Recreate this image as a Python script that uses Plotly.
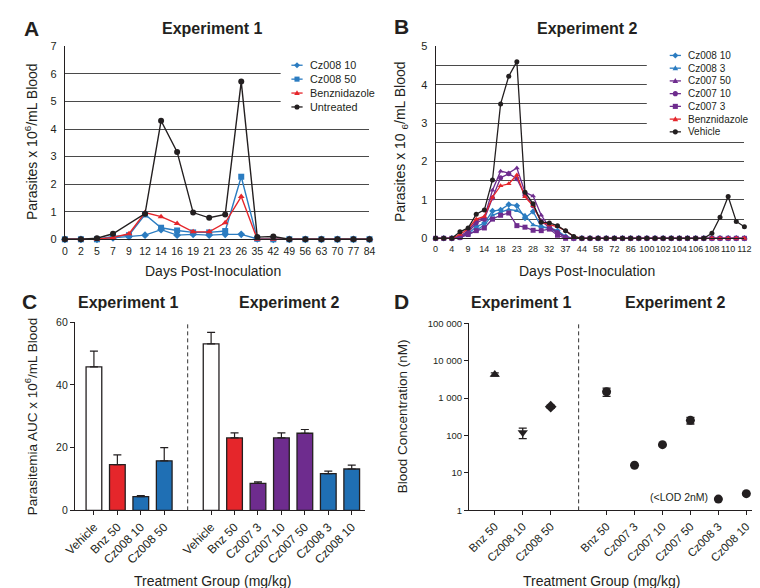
import plotly.graph_objects as go

W, H = 760, 588
FONT = "Liberation Sans, Arial, sans-serif"
INK = "#231f20"
GRID = "#4a4a4a"
BLUE = "#2b7cc1"
RED = "#e5262b"
PURPLE = "#6e2c8e"

# ---------------- Panel A data (Experiment 1) ----------------
a_days = ["0", "2", "5", "7", "9", "12", "14", "16", "19", "21", "23", "26",
          "35", "42", "49", "56", "63", "70", "77", "84"]
a_cz008_10 = [0, 0, 0, 0.05, 0.1, 0.15, 0.35, 0.15, 0.18, 0.15, 0.18, 0.18, 0.02, 0, 0, 0, 0, 0, 0, 0]
a_cz008_50 = [0, 0, 0, 0.1, 0.15, 0.9, 0.42, 0.32, 0.25, 0.25, 0.3, 2.27, 0.02, 0, 0, 0, 0, 0, 0, 0]
a_bnz = [0, 0, 0, 0.07, 0.2, 0.97, 0.82, 0.57, 0.27, 0.27, 0.6, 1.55, 0, 0, 0, 0, 0, 0, 0, 0]
a_untreated = [0, 0, 0.04, 0.2, None, 0.93, 4.3, 3.17, 0.97, 0.78, 0.9, 5.72, 0.08, 0.1, 0, 0, 0, 0, 0, 0]

# ---------------- Panel B data (Experiment 2) ----------------
b_days = ["0", "2", "4", "7", "9", "11", "14", "16", "18", "21", "23", "25", "28", "30", "32",
          "35", "37", "39", "44", "51", "58", "65", "72", "79", "86", "93", "100", "101", "102",
          "103", "104", "105", "106", "107", "108", "109", "110", "111", "112"]
b_cz008_10 = [0, 0, 0, 0.03, 0.12, 0.3, 0.4, 0.71, 0.74, 0.88, 0.85, 0.53, 0.7, 0.3, 0.28, 0.2, 0.05, 0,
              0, 0, 0, 0, 0, 0, 0, 0, 0, 0, 0, 0, 0, 0, 0, 0, 0, 0, 0, 0, 0]
b_cz008_3 = [0, 0, 0, 0.02, 0.1, 0.2, 0.35, 0.6, 0.68, 0.75, 0.72, 0.6, 0.35, 0.3, 0.25, 0.15, 0.02, 0,
             0, 0, 0, 0, 0, 0, 0, 0, 0, 0, 0, 0, 0, 0, 0, 0, 0, 0, 0, 0, 0]
b_cz007_50 = [0, 0, 0, 0.05, 0.2, 0.45, 0.55, 1.25, 1.75, 1.7, 1.83, 1.2, 1.1, 0.6, 0.3, 0.15, 0.03, 0,
              0, 0, 0, 0, 0, 0, 0, 0, 0, 0, 0, 0, 0, 0, 0, 0, 0, 0, 0, 0, 0]
b_cz007_10 = [0, 0, 0, 0.03, 0.15, 0.4, 0.5, 1.05, 1.58, 1.68, 1.55, 1.12, 0.85, 0.45, 0.28, 0.15, 0.03, 0,
              0, 0, 0, 0, 0, 0, 0, 0, 0, 0, 0, 0, 0, 0, 0, 0, 0, 0, 0, 0, 0]
b_cz007_3 = [0, 0, 0, 0.02, 0.1, 0.2, 0.27, 0.5, 0.6, 0.66, 0.33, 0.29, 0.21, 0.2, 0.24, 0.08, 0, 0,
             0, 0, 0, 0, 0, 0, 0, 0, 0, 0, 0, 0, 0, 0, 0, 0, 0, 0, 0, 0, 0]
b_bnz = [0, 0, 0, 0.1, 0.25, 0.5, 0.57, 1.07, 1.37, 1.42, 1.65, 1.08, 0.85, 0.42, 0.35, 0.3, 0.2, 0.05,
         0, 0, 0, 0, 0, 0, 0, 0, 0, 0, 0, 0, 0, 0, 0, 0, 0, 0, 0, 0, 0]
b_vehicle = [0, 0, 0, 0.17, 0.27, 0.63, 0.74, 1.52, 3.5, 4.22, 4.6, 1.2, 0.9, 0.42, 0.4, 0.33, 0.2, 0.05,
             0, 0, 0, 0, 0, 0, 0, 0, 0, 0, 0, 0, 0, 0, 0, 0, 0.13, 0.55, 1.09, 0.44, 0.3]

# ---------------- Panel C data (AUC) ----------------
c_e1_groups = ["Vehicle", "Bnz 50", "Cz008 10", "Cz008 50"]
c_e1_mean = [45.8, 14.6, 4.4, 15.8]
c_e1_err = [5.0, 3.1, 0.3, 4.2]
c_e2_groups = ["Vehicle", "Bnz 50", "Cz007 3", "Cz007 10", "Cz007 50", "Cz008 3", "Cz008 10"]
c_e2_mean = [53.1, 23.1, 8.6, 23.1, 24.6, 11.7, 13.2]
c_e2_err = [3.7, 1.6, 0.5, 1.6, 1.2, 0.8, 1.2]

# ---------------- Panel D data (blood concentration) ----------------
d_e1_groups = ["Bnz 50", "Cz008 10", "Cz008 50"]
d_e1_vals = [4300, 120, 590]
d_e1_err = [400, 37, 60]
d_e2_groups = ["Bnz 50", "Cz007 3", "Cz007 10", "Cz007 50", "Cz008 3", "Cz008 10"]
d_e2_vals = [1480, 16, 57, 255, 2.0, 2.8]
d_e2_err = [370, 0, 0, 52, 0, 0]
d_ticks = [1, 10, 100, 1000, 10000, 100000]
d_ticktext = ["1", "10", "100", "1 000", "10 000", "100 000"]


def px(x):
    return x / W


def py(y):
    return 1 - y / H


def group_color(g):
    if g.startswith("Vehicle"):
        return "white"
    if g.startswith("Bnz"):
        return RED
    if g.startswith("Cz007"):
        return PURPLE
    return "#1f6fb4"


fig = go.Figure()

# ---------- Panel A traces ----------
a_series = [
    ("Cz008 10", a_cz008_10, BLUE, "diamond"),
    ("Cz008 50", a_cz008_50, BLUE, "square"),
    ("Benznidazole", a_bnz, RED, "triangle-up"),
    ("Untreated", a_untreated, INK, "circle"),
]
for name, vals, col, sym in a_series:
    fig.add_trace(go.Scatter(x=a_days, y=vals, name=name, mode="lines+markers",
                             connectgaps=True, cliponaxis=False,
                             line=dict(color=col, width=1.4),
                             marker=dict(color=col, symbol=sym, size=6),
                             xaxis="x", yaxis="y"))

# ---------- Panel B traces ----------
b_series = [
    ("Cz008 10", b_cz008_10, BLUE, "diamond"),
    ("Cz008 3", b_cz008_3, BLUE, "triangle-up"),
    ("Cz007 50", b_cz007_50, PURPLE, "triangle-up"),
    ("Cz007 10", b_cz007_10, PURPLE, "circle"),
    ("Cz007 3", b_cz007_3, PURPLE, "square"),
    ("Benznidazole", b_bnz, RED, "triangle-up"),
    ("Vehicle", b_vehicle, INK, "circle"),
]
for name, vals, col, sym in b_series:
    fig.add_trace(go.Scatter(x=b_days, y=vals, name=name, mode="lines+markers",
                             cliponaxis=False,
                             line=dict(color=col, width=1.3),
                             marker=dict(color=col, symbol=sym, size=5),
                             xaxis="x2", yaxis="y2"))

# ---------- Panel C bars ----------
c_groups = c_e1_groups + c_e2_groups
c_pos = list(range(len(c_e1_groups))) + [len(c_e1_groups) + 1 + i for i in range(len(c_e2_groups))]
c_gap = len(c_e1_groups)
c_mean = c_e1_mean + c_e2_mean
c_err = c_e1_err + c_e2_err
fig.add_trace(go.Bar(x=c_pos, y=c_mean, width=0.67,
                     marker=dict(color=[group_color(g) for g in c_groups],
                                 line=dict(color=INK, width=1.3)),
                     error_y=dict(type="data", symmetric=False, array=c_err,
                                  arrayminus=[0] * len(c_err), color=INK,
                                  thickness=1.2, width=4),
                     xaxis="x3", yaxis="y3", showlegend=False))

# ---------- Panel D points ----------
d_groups = d_e1_groups + d_e2_groups
d_pos = list(range(len(d_e1_groups))) + [len(d_e1_groups) + 1 + i for i in range(len(d_e2_groups))]
d_gap = len(d_e1_groups)
d_vals = d_e1_vals + d_e2_vals
d_err = d_e1_err + d_e2_err
d_symbols = ["triangle-up", "triangle-down", "diamond"] + ["circle"] * len(d_e2_groups)
fig.add_trace(go.Scatter(x=d_pos, y=d_vals, mode="markers", cliponaxis=False,
                         marker=dict(color=INK, symbol=d_symbols, size=9),
                         error_y=dict(type="data", array=d_err, color=INK,
                                      thickness=1.3, width=4),
                         xaxis="x4", yaxis="y4", showlegend=False))

# ---------- Axes ----------
common_y = dict(showline=True, linecolor=INK, linewidth=1, zeroline=False,
                ticks="outside", ticklen=5, tickcolor="rgba(0,0,0,0)",
                tickfont=dict(family=FONT, size=11, color=INK))

fig.update_layout(
    xaxis=dict(domain=[px(47), px(359)], anchor="y", type="category", range=[0, 19],
               showgrid=False, showline=True, linecolor=INK, linewidth=1.2,
               ticks="outside", ticklen=2, tickcolor="rgba(0,0,0,0)",
               tickfont=dict(family=FONT, size=10.5, color=INK), tickangle=0),
    yaxis=dict(domain=[py(230), py(33)], anchor="x", range=[0, 7], dtick=1,
               showgrid=True, gridcolor=GRID, gridwidth=1, **common_y),
    xaxis2=dict(domain=[px(426.7), px(743)], anchor="y2", type="category", range=[0, 38],
                showgrid=False, showline=True, linecolor=INK, linewidth=1.2,
                tickvals=b_days[::2], ticktext=b_days[::2],
                ticks="outside", ticklen=2, tickcolor="rgba(0,0,0,0)",
                tickfont=dict(family=FONT, size=9, color=INK), tickangle=0),
    yaxis2=dict(domain=[py(229), py(33)], anchor="x2", range=[0, 5],
                tickvals=[0, 1, 2, 3, 4, 5],
                showgrid=True, gridcolor=GRID, gridwidth=1,
                minor=dict(dtick=0.5, showgrid=True, gridcolor=GRID, gridwidth=1, ticks=""),
                **common_y),
    xaxis3=dict(domain=[px(57.3), px(354)], anchor="y3", range=[-0.81, 11.55],
                showgrid=False, zeroline=False, showline=True, linecolor=INK, linewidth=1.2,
                tickvals=c_pos, ticktext=c_groups, tickangle=-45,
                ticks="outside", ticklen=4, tickcolor=INK,
                tickfont=dict(family=FONT, size=12, color=INK)),
    yaxis3=dict(domain=[py(506.7), py(314.7)], anchor="x3", range=[0, 60],
                tickvals=[0, 20, 40, 60], showgrid=False, zeroline=False,
                showline=True, linecolor=INK, linewidth=1.2,
                ticks="outside", ticklen=4, tickcolor=INK,
                tickfont=dict(family=FONT, size=10.5, color=INK)),
    xaxis4=dict(domain=[px(461), px(756.7)], anchor="y4", range=[-0.92, 9.41],
                showgrid=False, zeroline=False, showline=True, linecolor=INK, linewidth=1.2,
                tickvals=d_pos, ticktext=d_groups, tickangle=-45,
                ticks="outside", ticklen=4, tickcolor=INK,
                tickfont=dict(family=FONT, size=11.5, color=INK)),
    yaxis4=dict(domain=[py(506.7), py(315.7)], anchor="x4", type="log", range=[0, 5],
                tickvals=d_ticks, ticktext=d_ticktext, showgrid=False, zeroline=False,
                showline=True, linecolor=INK, linewidth=1.2,
                ticks="outside", ticklen=4, tickcolor=INK,
                tickfont=dict(family=FONT, size=9.5, color=INK)),
)

shapes = []
annotations = []


def text(x, y, s, size=14, bold=False, xanchor="center", angle=0):
    annotations.append(dict(
        x=px(x), y=py(y), xref="paper", yref="paper", text=f"<b>{s}</b>" if bold else s,
        showarrow=False, xanchor=xanchor, yanchor="middle", textangle=angle,
        font=dict(family=FONT, size=size, color=INK)))


# separators
shapes.append(dict(type="line", xref="x3", yref="y3 domain", x0=c_gap, x1=c_gap, y0=0, y1=1,
                   line=dict(color="#333333", width=1, dash="4px,3px")))
shapes.append(dict(type="line", xref="x4", yref="y4 domain", x0=d_gap, x1=d_gap, y0=0, y1=1,
                   line=dict(color="#333333", width=1, dash="4px,3px")))


def marker_shape(cx, cy, r, sym, col):
    if sym == "circle":
        return dict(type="circle", xref="paper", yref="paper", x0=px(cx - r), x1=px(cx + r),
                    y0=py(cy + r), y1=py(cy - r), fillcolor=col, line=dict(width=0), layer="above")
    if sym == "square":
        return dict(type="rect", xref="paper", yref="paper", x0=px(cx - r), x1=px(cx + r),
                    y0=py(cy + r), y1=py(cy - r), fillcolor=col, line=dict(width=0), layer="above")
    if sym == "triangle-up":
        pts = [(cx, cy - r * 1.1), (cx + r * 1.1, cy + r * 0.8), (cx - r * 1.1, cy + r * 0.8)]
    else:
        pts = [(cx, cy - r * 1.2), (cx + r * 1.2, cy), (cx, cy + r * 1.2), (cx - r * 1.2, cy)]
    path = "M " + " L ".join(f"{px(a):.5f},{py(b):.5f}" for a, b in pts) + " Z"
    return dict(type="path", xref="paper", yref="paper", path=path, fillcolor=col,
                line=dict(width=0), layer="above")


def legend(series, box, x0, y0, dy, size):
    shapes.append(dict(type="rect", xref="paper", yref="paper", x0=px(box[0]), x1=px(box[1]),
                       y0=py(box[3]), y1=py(box[2]), fillcolor="white", line=dict(width=0),
                       layer="above"))
    for i, (name, _vals, col, sym) in enumerate(series):
        yy = y0 + i * dy
        shapes.append(dict(type="line", xref="paper", yref="paper", x0=px(x0), x1=px(x0 + 11.5),
                           y0=py(yy), y1=py(yy), line=dict(color=col, width=1.3), layer="above"))
        shapes.append(marker_shape(x0 + 5.75, yy, 2.6, sym, col))
        text(x0 + 17, yy, name, size=size, xanchor="left")


legend(a_series, (268, 362, 44, 104), 279, 52.3, 14.2, 10.8)
legend(b_series, (643, 748, 36, 128), 666.5, 42.3, 13.0, 10)

# panel letters and titles
text(3, 15, "A", size=21, bold=True, xanchor="left")
text(198, 15, "Experiment 1", size=16, bold=True)
text(382, 13, "B", size=21, bold=True, xanchor="left")
text(582, 15, "Experiment 2", size=16, bold=True)
text(1, 293, "C", size=21, bold=True, xanchor="left")
text(112, 295, "Experiment 1", size=16, bold=True)
text(277, 295, "Experiment 2", size=16, bold=True)
text(382, 293, "D", size=21, bold=True, xanchor="left")
text(515, 295, "Experiment 1", size=16, bold=True)
text(672, 295, "Experiment 2", size=16, bold=True)

# axis titles
text(199, 262, "Days Post-Inoculation", size=14)
text(582, 262, "Days Post-Inoculation", size=14)
text(13, 130, "Parasites x 10<sup>6</sup>/mL Blood", size=14, angle=-90)
text(392, 130, "Parasites x 10 <sub>6</sub>/mL Blood", size=14, angle=-90)
text(12, 411, "Parasitemia AUC x 10<sup>6</sup>/mL Blood", size=13.5, angle=-90)
text(393, 411, "Blood Concentration (nM)", size=13.5, angle=-90)
text(198, 579, "Treatment Group (mg/kg)", size=14)
text(597, 579, "Treatment Group (mg/kg)", size=14)

# LOD note next to the Cz008 3 point
annotations.append(dict(x=d_pos[d_groups.index("Cz008 3", len(d_e1_groups))], y=0.35,
                        xref="x4", yref="y4", text="(<LOD 2nM)", showarrow=False,
                        xanchor="right", xshift=-8, yanchor="middle",
                        font=dict(family=FONT, size=10.5, color=INK)))

fig.update_layout(
    width=W, height=H, autosize=False,
    margin=dict(l=0, r=0, t=0, b=0),
    paper_bgcolor="white", plot_bgcolor="rgba(0,0,0,0)",
    showlegend=False, shapes=shapes, annotations=annotations,
    font=dict(family=FONT, color=INK),
)

fig.write_html("out.html")
